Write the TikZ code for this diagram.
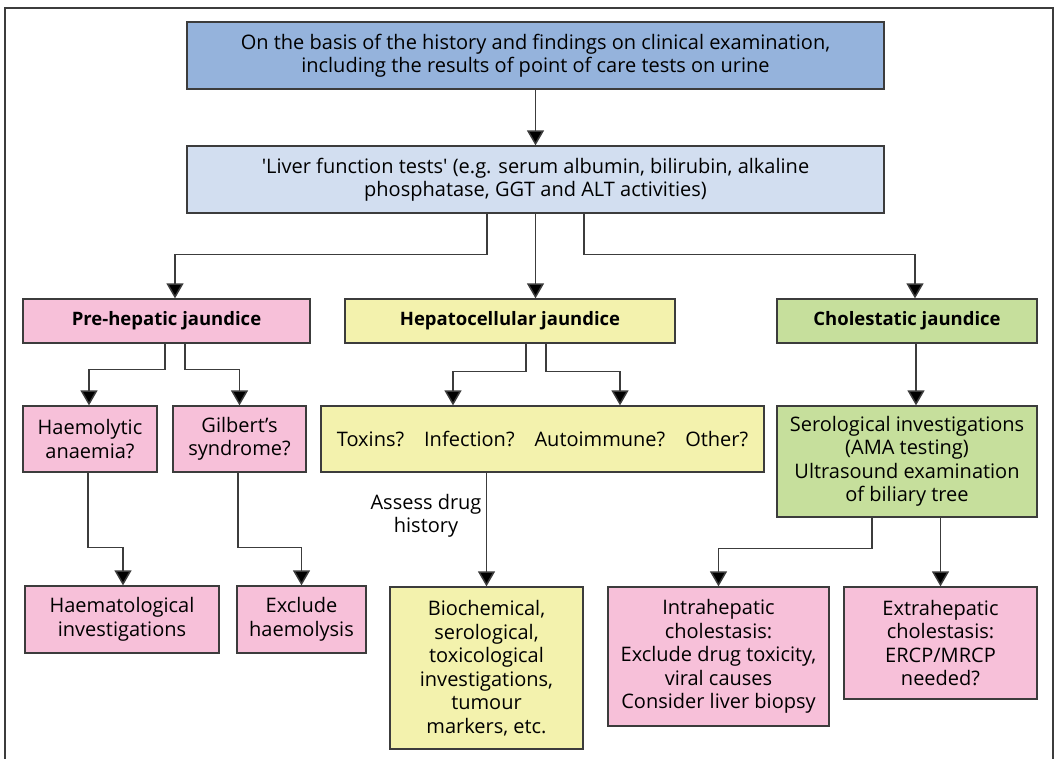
\documentclass[tikz,border=0pt]{standalone}
\usepackage{fontspec}
\setmainfont{Open Sans}
\usepackage{tikz}
\usetikzlibrary{arrows.meta,positioning,calc}

\definecolor{topblue}{HTML}{95B3DC}
\definecolor{lftblue}{HTML}{D2DEF0}
\definecolor{pinkbox}{HTML}{F7C0D9}
\definecolor{yellowbox}{HTML}{F3F2AD}
\definecolor{greenbox}{HTML}{C6DF9C}
\definecolor{linegray}{HTML}{3C3C3C}

\begin{document}
\begin{tikzpicture}[
    x=1pt,
    y=-1pt,
    box/.style={draw=linegray, line width=1.3pt, inner sep=0pt, align=center,
      font=\fontsize{20}{23.5}\selectfont},
    headbox/.style={box, font=\fontsize{18.5}{23.5}\selectfont\bfseries},
    arr/.style={draw=linegray, line width=1.5pt, -{Triangle[width=17pt,length=15pt,fill=black]}},
    lab/.style={inner sep=0pt, align=center, font=\fontsize{20}{23.5}\selectfont}
  ]
    \useasboundingbox (0,0) rectangle (1056,758);
    \draw[linegray, line width=1.2pt] (5,760) -- (5,8) -- (1053,8) -- (1053,760);

    % top levels
    \node[box, fill=topblue, minimum width=697pt, minimum height=67pt] (basis) at (535.5,55.5)
      {On the basis of the history and findings on clinical examination,\\including the results of point of care tests on urine};
    \node[box, fill=lftblue, minimum width=697pt, minimum height=67pt] (lft) at (535.5,179.5)
      {\textquotesingle Liver function tests\textquotesingle\ (e.g. serum albumin, bilirubin, alkaline\\phosphatase, GGT and ALT activities)};

    % jaundice types
    \node[headbox, fill=pinkbox, minimum width=287pt, minimum height=44pt] (pre) at (166.5,321) {Pre-hepatic jaundice};
    \node[headbox, fill=yellowbox, minimum width=330pt, minimum height=44pt] (hep) at (510,321) {Hepatocellular jaundice};
    \node[headbox, fill=greenbox, minimum width=260pt, minimum height=44pt] (chol) at (907,321) {Cholestatic jaundice};

    % causes
    \node[box, fill=pinkbox, minimum width=134pt, minimum height=66pt] (haem) at (90,439) {Haemolytic\\anaemia?};
    \node[box, fill=pinkbox, minimum width=133pt, minimum height=66pt] (gil) at (239.5,439) {Gilbert's\\syndrome?};
    \node[box, fill=yellowbox, minimum width=443pt, minimum height=66pt] (tox) at (542.5,439)
      {Toxins?\hspace{20pt}Infection?\hspace{20pt}Autoimmune?\hspace{20pt}Other?};
    \node[box, fill=greenbox, minimum width=260pt, minimum height=111pt] (ser) at (907,461.5)
      {Serological investigations\\(AMA testing)\\Ultrasound examination\\of biliary tree};

    % investigations
    \node[box, fill=pinkbox, minimum width=194pt, minimum height=67pt] (hmi) at (122,619.5) {Haematological\\investigations};
    \node[box, fill=pinkbox, minimum width=129pt, minimum height=67pt] (exh) at (301.5,619.5) {Exclude\\haemolysis};
    \node[box, fill=yellowbox, minimum width=193pt, minimum height=162pt] (bio) at (486.5,668)
      {Biochemical,\\serological,\\toxicological\\investigations,\\tumour\\markers, etc.};
    \node[box, fill=pinkbox, minimum width=221pt, minimum height=139pt] (intra) at (718.5,656.5)
      {Intrahepatic\\cholestasis:\\Exclude drug toxicity,\\viral causes\\Consider liver biopsy};
    \node[box, fill=pinkbox, minimum width=193pt, minimum height=112pt] (extra) at (940.5,643)
      {Extrahepatic\\cholestasis:\\ERCP/MRCP\\needed?};
    \node[lab] (drug) at (426,516) {Assess drug\\history};

    % connectors
    \draw[arr] (basis) -- (lft);
    \draw[arr] ([xshift=-48.5pt]lft.south) -- ++(0,41) -| ([xshift=8.5pt]pre.north);
    \draw[arr] (lft.south) -- (lft.south |- hep.north);
    \draw[arr] ([xshift=48.5pt]lft.south) -- ++(0,41) -| ([xshift=8pt]chol.north);
    \draw[arr] ([xshift=-1.5pt]pre.south) -- ++(0,26) -| ([xshift=-1pt]haem.north);
    \draw[arr] ([xshift=18.5pt]pre.south) -- ++(0,26) -| (gil.north);
    \draw[arr] ([xshift=16pt]hep.south) -- ++(0,28) -| ([xshift=-89.5pt]tox.north);
    \draw[arr] ([xshift=36pt]hep.south) -- ++(0,28) -| ([xshift=77.5pt]tox.north);
    \draw[arr] ([xshift=9pt]chol.south) -- ([xshift=9pt]ser.north);
    \draw[arr] ([xshift=-2pt]haem.south) -- ++(0,75) -| ([xshift=1pt]hmi.north);
    \draw[arr] ([xshift=-1.5pt]gil.south) -- ++(0,75) -| (exh.north);
    \draw[arr] (bio.north |- tox.south) -- (bio.north);
    \draw[arr] ([xshift=-35pt]ser.south) -- ++(0,31) -| (intra.north);
    \draw[arr] (extra.north |- ser.south) -- (extra.north);
  \end{tikzpicture}
\end{document}
